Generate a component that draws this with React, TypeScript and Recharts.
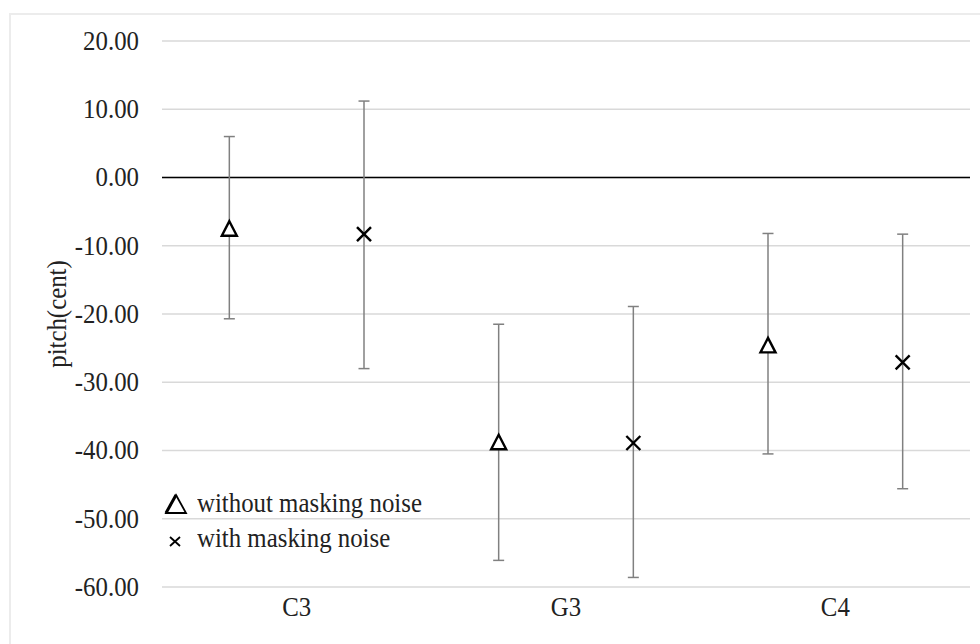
import {
  ComposedChart,
  Scatter,
  ErrorBar,
  XAxis,
  YAxis,
  CartesianGrid,
  ReferenceLine,
  Legend,
} from "recharts";

const categories = ["C3", "G3", "C4"];

// without masking noise (triangle)
const withoutMean = [-7.5, -38.8, -24.6];
const withoutUpper = [6.0, -21.5, -8.2];
const withoutLower = [-20.7, -56.1, -40.5];

// with masking noise (cross)
const withMean = [-8.3, -38.9, -27.1];
const withUpper = [11.2, -18.9, -8.3];
const withLower = [-28.0, -58.6, -45.6];

const yTicks = [-60, -50, -40, -30, -20, -10, 0, 10, 20];
const seriesNames = ["without masking noise", "with masking noise"];

const FONT = '"Liberation Serif", "Times New Roman", serif';
const FONT_SIZE = 27;
const SQUEEZE = 0.92;
const TEXT_COLOR = "#222";

const buildPoints = (mean: number[], upper: number[], lower: number[], shift: number) =>
  mean.map((m, i) => ({
    x: i + shift,
    y: m,
    err: [m - lower[i], upper[i] - m],
  }));

const withoutData = buildPoints(withoutMean, withoutUpper, withoutLower, 0.25);
const withData = buildPoints(withMean, withUpper, withLower, 0.75);

const TriangleMark = ({ cx, cy }: any) => {
  if (cx == null || cy == null) return null;
  return (
    <path
      d={`M${cx},${cy - 7.5} L${cx + 7.5},${cy + 7} L${cx - 7.5},${cy + 7} Z`}
      fill="#fff"
      stroke="#000"
      strokeWidth={2.4}
    />
  );
};

const CrossMark = ({ cx, cy }: any) => {
  if (cx == null || cy == null) return null;
  const r = 7;
  return (
    <g stroke="#000" strokeWidth={2.4}>
      <line x1={cx - r} y1={cy - r} x2={cx + r} y2={cy + r} />
      <line x1={cx - r} y1={cy + r} x2={cx + r} y2={cy - r} />
    </g>
  );
};

const YTick = ({ x, y, payload }: any) => (
  <text
    transform={`translate(${x},${y}) scale(${SQUEEZE},1)`}
    textAnchor="end"
    dominantBaseline="central"
    fontFamily={FONT}
    fontSize={FONT_SIZE}
    fill={TEXT_COLOR}
  >
    {Number(payload.value).toFixed(2)}
  </text>
);

const XTick = ({ x, y, payload }: any) => (
  <text
    transform={`translate(${x},${y}) scale(${SQUEEZE},1)`}
    textAnchor="middle"
    dy="0.7em"
    fontFamily={FONT}
    fontSize={FONT_SIZE}
    fill={TEXT_COLOR}
  >
    {categories[Math.floor(payload.value)]}
  </text>
);

const YLabel = ({ viewBox }: any) => {
  const x = viewBox.x + 57;
  const y = viewBox.y + viewBox.height / 2;
  return (
    <text
      transform={`translate(${x},${y}) rotate(-90) scale(${SQUEEZE},1)`}
      textAnchor="middle"
      dominantBaseline="central"
      fontFamily={FONT}
      fontSize={FONT_SIZE}
      fill={TEXT_COLOR}
    >
      pitch(cent)
    </text>
  );
};

const LegendBox = () => (
  <div style={{ fontFamily: FONT, fontSize: FONT_SIZE, color: TEXT_COLOR, lineHeight: "35px" }}>
    <div style={{ display: "flex", alignItems: "center", height: 35 }}>
      <svg width={34} height={35}>
        <path d="M13,9 L23,27 L3,27 Z" fill="none" stroke="#000" strokeWidth={1.8} />
        <line x1={13} y1={9} x2={3} y2={27} stroke="#000" strokeWidth={3} />
      </svg>
      <span style={{ display: "inline-block", transform: `scaleX(${SQUEEZE})`, transformOrigin: "left center", whiteSpace: "nowrap" }}>
        {seriesNames[0]}
      </span>
    </div>
    <div style={{ display: "flex", alignItems: "center", height: 35 }}>
      <svg width={34} height={35}>
        <g stroke="#000" strokeWidth={1.8}>
          <line x1={7} y1={16} x2={17} y2={25} />
          <line x1={7} y1={25} x2={17} y2={16} />
        </g>
      </svg>
      <span style={{ display: "inline-block", transform: `scaleX(${SQUEEZE})`, transformOrigin: "left center", whiteSpace: "nowrap" }}>
        {seriesNames[1]}
      </span>
    </div>
  </div>
);

export default function App() {
  return (
    <div style={{ position: "absolute", left: 0, top: 0, width: 980, height: 644, background: "#fff", overflow: "hidden" }}>
      <div
        style={{
          position: "absolute",
          left: 9,
          top: 13,
          width: 990,
          height: 660,
          border: "2px solid #ececec",
          boxSizing: "border-box",
        }}
      />
      <ComposedChart
        width={980}
        height={644}
        margin={{ top: 41, right: 10, left: 0, bottom: 0 }}
        style={{ position: "absolute", left: 0, top: 0 }}
      >
        <CartesianGrid vertical={false} stroke="#d9d9d9" strokeWidth={1.5} />
        <XAxis
          type="number"
          dataKey="x"
          domain={[0, 3]}
          ticks={[0.5, 1.5, 2.5]}
          axisLine={false}
          tickLine={false}
          tickSize={0}
          tickMargin={10}
          height={57}
          tick={<XTick />}
        />
        <YAxis
          type="number"
          dataKey="y"
          domain={[-60, 20]}
          ticks={yTicks}
          axisLine={false}
          tickLine={false}
          tickSize={0}
          tickMargin={23}
          width={162}
          tick={<YTick />}
          label={<YLabel />}
        />
        <ReferenceLine y={0} stroke="#000" strokeWidth={1.3} />
        <Scatter name={seriesNames[0]} data={withoutData} shape={<TriangleMark />} isAnimationActive={false}>
          <ErrorBar dataKey="err" direction="y" width={5.5} stroke="#808080" strokeWidth={1.5} />
        </Scatter>
        <Scatter name={seriesNames[1]} data={withData} shape={<CrossMark />} isAnimationActive={false}>
          <ErrorBar dataKey="err" direction="y" width={5.5} stroke="#808080" strokeWidth={1.5} />
        </Scatter>
        <Legend
          layout="vertical"
          align="center"
          verticalAlign="middle"
          content={<LegendBox />}
          wrapperStyle={{ left: 163, top: 486, width: 320, height: 72 }}
        />
      </ComposedChart>
    </div>
  );
}
